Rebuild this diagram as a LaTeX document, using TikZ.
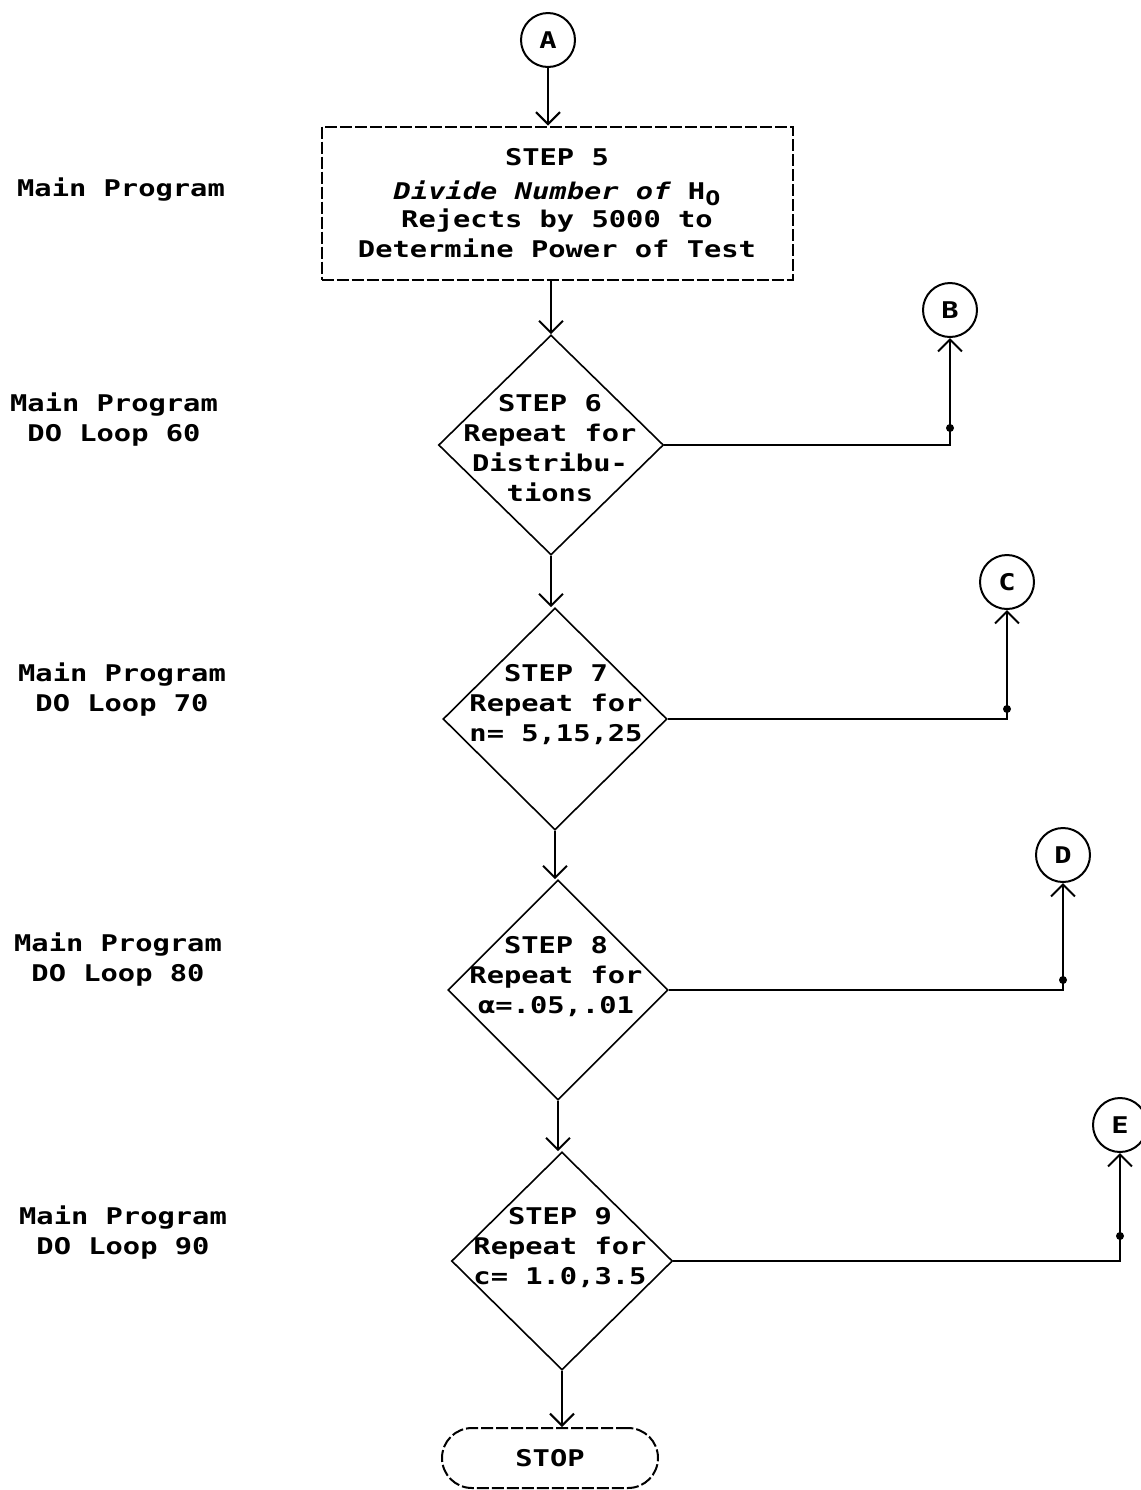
\documentclass[tikz,border=0pt]{standalone}
\usepackage{fontspec}
\newfontfamily\dm{DejaVu Sans Mono}[FakeStretch=1.25]
\usetikzlibrary{shapes.geometric,arrows.meta,calc}
\begin{document}
\begin{tikzpicture}[x=0.5pt,y=-0.5pt,
  every node/.style={font=\dm\bfseries\fontsize{11.5pt}{15pt}\selectfont},
  lw/.style={line width=1pt},
  conn/.style={circle,draw,lw,minimum size=27pt,inner sep=0pt},
  dia/.style={diamond,draw,line width=0.8pt,inner sep=0pt,aspect=1},
  dtxt/.style={align=center,inner sep=0pt},
  lab/.style={align=center,inner sep=0pt},
  dsh/.style={draw,lw,dash pattern=on 6pt off 1.5pt},
  arr/.style={lw,-{Straight Barb[length=6pt,width=12pt,line width=1pt]}},
  dot/.style={fill,circle,inner sep=0pt,minimum size=4pt}]
\fill[white] (0,0) rectangle (1141,1490);
\useasboundingbox (0,0) rectangle (1141,1490);

% side labels
\node[lab] (L5) at (121,190) {Main Program};
\node[lab] (L6) at (114,420) {Main Program\\DO Loop 60};
\node[lab] (L7) at (122,690) {Main Program\\DO Loop 70};
\node[lab] (L8) at (118,960) {Main Program\\DO Loop 80};
\node[lab] (L9) at (123,1233) {Main Program\\DO Loop 90};

% connectors (circles)
\node[conn] (A) at (548,40) {A};
\node[conn] (B) at (950,310) {B};
\node[conn] (C) at (1007,582) {C};
\node[conn] (D) at (1063,855) {D};
\node[conn] (E) at (1120,1125) {E};

% step 5 box
\node[dsh,minimum width=235.5pt,minimum height=76.5pt,align=center,inner sep=0pt] (s5) at (557,203)
 {STEP 5\\[2pt]{\itshape Divide Number of} H\raisebox{-0.45ex}{\fontsize{10pt}{10pt}\selectfont O}\\[-1pt]Rejects by 5000 to\\Determine Power of Test};

% diamonds
\node[dia,minimum width=112.5pt,minimum height=110pt] (d6) at (551,445) {};
\node[dtxt] (t6) at (550,448) {STEP 6\\Repeat for\\Distribu-\\tions};
\node[dia,minimum width=112pt,minimum height=111pt] (d7) at (555,719) {};
\node[dtxt] (t7) at (556,705) {STEP 7\\Repeat for\\n= 5,15,25};
\node[dia,minimum width=110pt,minimum height=110pt] (d8) at (558,990) {};
\node[dtxt] (t8) at (556,977) {STEP 8\\Repeat for\\α=.05,.01};
\node[dia,minimum width=110.5pt,minimum height=109pt] (d9) at (562,1261) {};
\node[dtxt] (t9) at (560,1248) {STEP 9\\Repeat for\\c= 1.0,3.5};

% stop
\node[dsh,minimum width=108pt,minimum height=30pt,rounded corners=15pt] (stop) at (550,1458) {STOP};

% main flow
\draw[arr] (A) -- (A |- s5.north);
\draw[arr] (s5.south -| d6.north) -- (d6.north);
\draw[arr] (d6.south) -- (d6.south |- d7.north);
\draw[arr] (d7.south) -- (d7.south |- d8.north);
\draw[arr] (d8.south) -- (d8.south |- d9.north);
\draw[arr] (d9.south) -- (d9.south |- stop.north);

% side branches
\draw[arr] (d6.east) -| (B.south);
\draw[arr] (d7.east) -| (C.south);
\draw[arr] (d8.east) -| (D.south);
\draw[arr] (d9.east) -| (E.south);
\node[dot] (pB) at ($(d6.east -| B)+(0,-17)$) {};
\node[dot] (pC) at ($(d7.east -| C)+(0,-10)$) {};
\node[dot] (pD) at ($(d8.east -| D)+(0,-10)$) {};
\node[dot] (pE) at ($(d9.east -| E)+(0,-25)$) {};
\end{tikzpicture}
\end{document}
